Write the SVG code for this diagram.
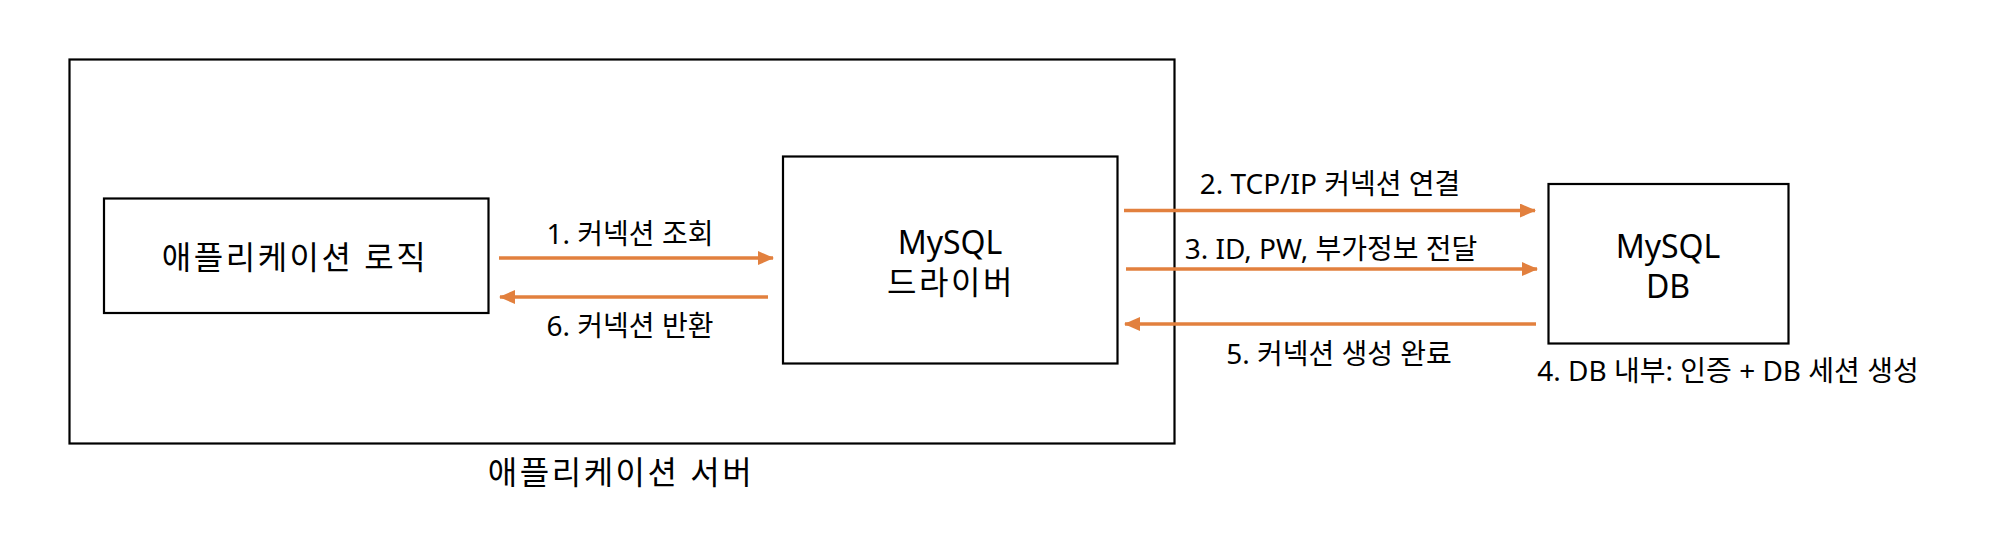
<svg xmlns="http://www.w3.org/2000/svg" width="2006" height="552" viewBox="0 0 2006 552">
<style>
  .box { fill: #ffffff; stroke: #000000; stroke-width: 2.2; }
  .frame { fill: none; stroke: #000000; stroke-width: 2.2; }
  .t { font-family: "Noto Sans", "Noto Sans CJK KR", sans-serif; fill: #000000; text-anchor: middle; dominant-baseline: central; }
  .main { font-size: 32px; }
  .ko { letter-spacing: 2.5px; }
  .lbl { font-size: 28px; }
  .conn { stroke: #E2803E; stroke-width: 3.5; fill: none; marker-end: url(#ah); }
</style>
<defs>
  <marker id="ah" markerUnits="userSpaceOnUse" viewBox="0 0 16 14" refX="15" refY="7" markerWidth="16" markerHeight="14" orient="auto">
    <path d="M0,0 L16,7 L0,14 Z" fill="#E2803E"/>
  </marker>
</defs>
<rect width="2006" height="552" fill="#ffffff"/>

<g id="app-server">
  <rect class="frame" x="69.5" y="59.5" width="1105" height="384"/>
  <text class="t main ko" x="621" y="471">애플리케이션 서버</text>
</g>

<g id="app-logic">
  <rect class="box" x="104" y="198.5" width="384.5" height="114.5"/>
  <text class="t main ko" x="295" y="256">애플리케이션 로직</text>
</g>

<g id="mysql-driver">
  <rect class="box" x="783" y="156.5" width="334.5" height="207"/>
  <text class="t main" x="950" y="241">MySQL</text>
  <text class="t main ko" x="951" y="281">드라이버</text>
</g>

<g id="mysql-db">
  <rect class="box" x="1548.5" y="184" width="240" height="159.5"/>
  <text class="t main" x="1668" y="245">MySQL</text>
  <text class="t main" x="1668" y="285">DB</text>
  <text class="t lbl" x="1728" y="370">4. DB 내부: 인증 + DB 세션 생성</text>
</g>

<g id="connectors">
  <line class="conn" x1="499" y1="258" x2="773" y2="258"/>
  <text class="t lbl" x="630" y="233">1. 커넥션 조회</text>
  <line class="conn" x1="768" y1="297" x2="500" y2="297"/>
  <text class="t lbl" x="630" y="325">6. 커넥션 반환</text>
  <line class="conn" x1="1124" y1="210.5" x2="1535" y2="210.5"/>
  <text class="t lbl" x="1330" y="183">2. TCP/IP 커넥션 연결</text>
  <line class="conn" x1="1126" y1="269" x2="1537" y2="269"/>
  <text class="t lbl" x="1331" y="248">3. ID, PW, 부가정보 전달</text>
  <line class="conn" x1="1536" y1="324" x2="1125" y2="324"/>
  <text class="t lbl" x="1339" y="353">5. 커넥션 생성 완료</text>
</g>
</svg>
